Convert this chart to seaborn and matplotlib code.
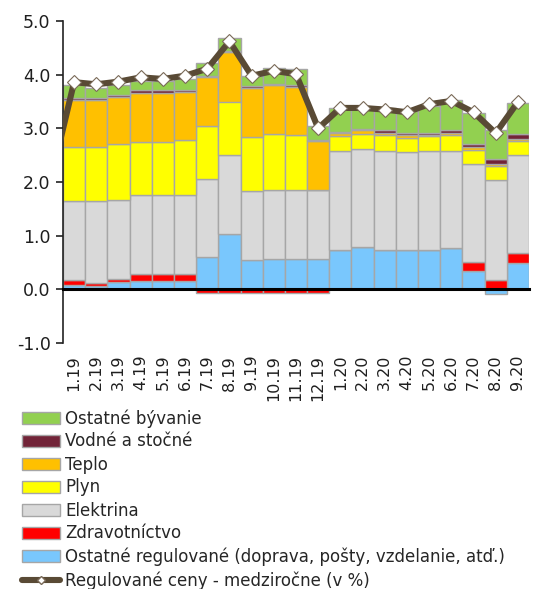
import numpy as np
import pandas as pd
import seaborn as sns
import matplotlib.pyplot as plt
from matplotlib.patches import Patch
from matplotlib.lines import Line2D

# %% data
months = ["1.19", "2.19", "3.19", "4.19", "5.19", "6.19", "7.19", "8.19", "9.19",
          "10.19", "11.19", "12.19", "1.20", "2.20", "3.20", "4.20", "5.20", "6.20",
          "7.20", "8.20", "9.20"]

ostatne_reg = [0.09, 0.06, 0.14, 0.15, 0.15, 0.15, 0.60, 1.03, 0.54, 0.57, 0.57,
               0.57, 0.74, 0.79, 0.74, 0.73, 0.74, 0.77, 0.34, -0.08, 0.50]
zdravotnictvo = [0.08, 0.06, 0.06, 0.13, 0.13, 0.13, -0.06, -0.06, -0.06, -0.06, -0.06,
                 -0.06, 0, 0, 0, 0, 0, 0, 0.17, 0.17, 0.17]
elektrina = [1.47, 1.52, 1.47, 1.47, 1.47, 1.47, 1.46, 1.47, 1.29, 1.29, 1.28,
             1.29, 1.84, 1.82, 1.84, 1.83, 1.83, 1.81, 1.83, 1.86, 1.83]
plyn = [1.01, 1.01, 1.03, 0.99, 0.99, 1.03, 0.99, 1.00, 1.00, 1.03, 1.03,
        0, 0.27, 0.28, 0.29, 0.26, 0.28, 0.30, 0.26, 0.26, 0.27]
teplo = [0.88, 0.88, 0.88, 0.92, 0.92, 0.89, 0.91, 0.93, 0.92, 0.91, 0.89,
         0.90, 0.06, 0.07, 0.04, 0.05, 0.03, 0.04, 0.05, 0.05, 0.04]
vodne = [0.04, 0.04, 0.05, 0.05, 0.05, 0.05, 0.02, 0.02, 0.03, 0.03, 0.03,
         0.03, 0.02, 0.03, 0.05, 0.04, 0.04, 0.05, 0.05, 0.09, 0.09]
ostatne_byv = [0.24, 0.19, 0.17, 0.17, 0.17, 0.20, 0.23, 0.23, 0.19, 0.30, 0.30,
               0.26, 0.45, 0.41, 0.41, 0.41, 0.50, 0.56, 0.58, 0.54, 0.58]

# line incl. 12.18 (outside the axis, only its segment shows)
line_months = ["12.18"] + months
regulovane = [2.12, 3.86, 3.82, 3.87, 3.95, 3.92, 3.98, 4.11, 4.62, 3.98, 4.07, 4.01,
              3.00, 3.38, 3.38, 3.35, 3.30, 3.45, 3.51, 3.30, 2.91, 3.49]

series = [
    ("Ostatné regulované (doprava, pošty, vzdelanie, atď.)", ostatne_reg, "#79c7fd"),
    ("Zdravotníctvo", zdravotnictvo, "#ff0000"),
    ("Elektrina", elektrina, "#d9d9d9"),
    ("Plyn", plyn, "#ffff00"),
    ("Teplo", teplo, "#ffc000"),
    ("Vodné a stočné", vodne, "#722438"),
    ("Ostatné bývanie", ostatne_byv, "#92d050"),
]
line_label = "Regulované ceny - medziročne (v %)"
line_color = "#594a35"
edge = "#a6a6a6"

# %% plot
sns.set_style("white")
plt.rcParams["font.family"] = ["DejaVu Sans"]

fig = plt.figure(figsize=(5.51, 5.89), dpi=100)
ax = fig.add_axes([63 / 551, 246 / 589, 466 / 551, 322 / 589])

pos = np.arange(len(months))
pos_cum = np.zeros(len(months))
neg_cum = np.zeros(len(months))
for name, vals, col in series:
    v = np.array(vals, dtype=float)
    bottom = np.where(v >= 0, pos_cum, neg_cum)
    df = pd.DataFrame({"x": pos, "y": v})
    sns.barplot(data=df, x="x", y="y", native_scale=True, bottom=bottom,
                color=col, saturation=1, width=1.0, errorbar=None,
                edgecolor=edge, linewidth=1.0, ax=ax)
    pos_cum += np.where(v >= 0, v, 0)
    neg_cum += np.where(v < 0, v, 0)

line_df = pd.DataFrame({"x": np.arange(-1, len(months)), "y": regulovane})
sns.lineplot(data=line_df, x="x", y="y", color=line_color, lw=4.4, marker="D",
             markersize=7.3, markerfacecolor="white", markeredgecolor="#7a6a58",
             markeredgewidth=0.8, zorder=5, ax=ax)

ax.set_xlim(-0.5, len(months) - 0.5)
ax.set_ylim(-1, 5)
ax.set_xlabel("")
ax.set_ylabel("")

# axis line at zero with ticks at bar boundaries
for s in ["top", "right"]:
    ax.spines[s].set_visible(False)
ax.spines["bottom"].set_position(("data", 0))
ax.spines["bottom"].set_linewidth(2.2)
ax.spines["bottom"].set_color("black")
ax.spines["bottom"].set_zorder(6)
ax.set_xticks(np.arange(-0.5, len(months), 1))
ax.set_xticklabels([])
ax.tick_params(axis="x", direction="out", length=4.5, width=2, color="black")

ax.spines["left"].set_color("#222222")
ax.spines["left"].set_linewidth(1.2)
ax.set_yticks(np.arange(-1, 5.1, 1))
ax.set_yticklabels([f"{t:.1f}" for t in np.arange(-1, 5.1, 1)])
ax.tick_params(axis="y", direction="out", length=5, width=1.2, color="#222222",
               labelsize=12.5, labelcolor="#1f1f1f", pad=4, left=True)

sec = ax.secondary_xaxis("bottom")
sec.set_xticks(pos, labels=months, rotation=90)
sec.tick_params(length=0, pad=8.5, labelsize=11.5, labelcolor="#1f1f1f")
sec.spines["bottom"].set_visible(False)

# legend
handles = [Patch(facecolor=c, edgecolor=edge, linewidth=1.0) for _, _, c in series[::-1]]
labels = [n for n, _, _ in series[::-1]]
handles.append(Line2D([], [], color=line_color, lw=4.4, marker="D", markersize=4,
                      markerfacecolor="white", markeredgecolor="#7a6a58"))
labels.append(line_label)
fig.legend(handles, labels, loc="upper left", bbox_to_anchor=(22 / 551, 1 - 409 / 589),
           frameon=False, fontsize=12, handlelength=2.3, handletextpad=0.3,
           labelspacing=0.3, borderpad=0, borderaxespad=0)

plt.savefig("out.png", dpi=100)
